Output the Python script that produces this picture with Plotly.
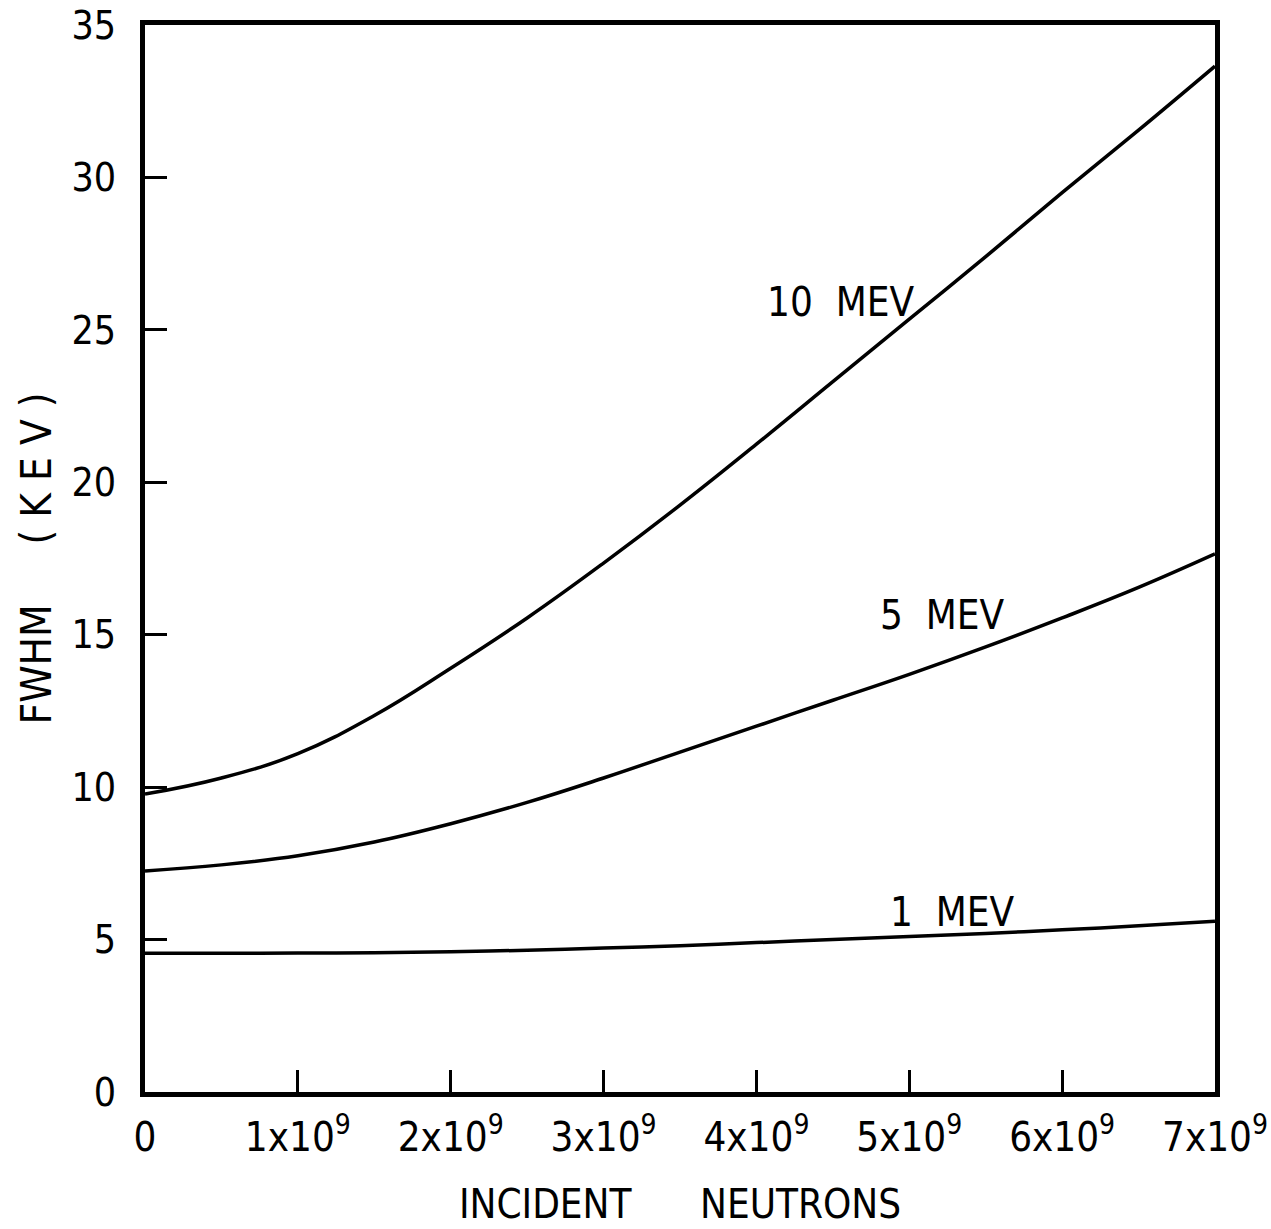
import plotly.graph_objects as go

# Incident neutrons (units of 1e9)
neutrons_e9 = [0, 0.5, 1, 1.5, 2, 2.5, 3, 3.5, 4, 4.5, 5, 5.5, 6, 6.5, 7]

fwhm_10mev = [9.77, 10.3, 11.1, 12.35, 13.9, 15.55, 17.35, 19.25, 21.25, 23.3, 25.35, 27.4, 29.5, 31.55, 33.65]
fwhm_5mev = [7.25, 7.45, 7.75, 8.2, 8.8, 9.5, 10.3, 11.15, 12.0, 12.85, 13.7, 14.6, 15.55, 16.55, 17.65]
fwhm_1mev = [4.55, 4.55, 4.56, 4.57, 4.6, 4.65, 4.72, 4.8, 4.9, 5.0, 5.1, 5.2, 5.32, 5.45, 5.6]

series_names = ["10  MEV", "5  MEV", "1  MEV"]

x_tickvals_e9 = [0, 1, 2, 3, 4, 5, 6, 7]
x_ticktext = ["0", "1x10<sup>9</sup>", "2x10<sup>9</sup>", "3x10<sup>9</sup>",
              "4x10<sup>9</sup>", "5x10<sup>9</sup>", "6x10<sup>9</sup>", "7x10<sup>9</sup>"]
y_tickvals = [0, 5, 10, 15, 20, 25, 30, 35]

FONT = "DejaVu Sans Condensed"

x_vals = [v * 1e9 for v in neutrons_e9]

fig = go.Figure()
for name, ys in zip(series_names, [fwhm_10mev, fwhm_5mev, fwhm_1mev]):
    fig.add_trace(go.Scatter(
        x=x_vals, y=ys, mode="lines", name=name,
        line=dict(color="black", width=3.5, shape="spline", smoothing=1.2),
        showlegend=False,
    ))

label_pos = {"10  MEV": (4.55e9, 25.9), "5  MEV": (5.22e9, 15.65), "1  MEV": (5.28e9, 5.9)}
for name in series_names:
    lx, ly = label_pos[name]
    fig.add_annotation(x=lx, y=ly, text=name, showarrow=False,
                       font=dict(family=FONT, size=40, color="black"),
                       xanchor="center", yanchor="middle")

fig.update_layout(
    width=1271, height=1229,
    margin=dict(l=145, r=56, t=25, b=137),
    paper_bgcolor="white", plot_bgcolor="white",
    font=dict(family=FONT, size=40, color="black"),
)

fig.update_xaxes(
    range=[0, 7e9], automargin=False,
    tickvals=[v * 1e9 for v in x_tickvals_e9], ticktext=x_ticktext,
    ticks="inside", ticklen=22, tickwidth=3, tickcolor="black",
    showline=True, linewidth=5, linecolor="black", mirror=True,
    showgrid=False, zeroline=False,
    tickfont=dict(family=FONT, size=40, color="black"),
    ticklabelstandoff=6, ticklabeloverflow="allow",
    title=dict(text="INCIDENT      NEUTRONS",
               font=dict(family=FONT, size=40, color="black"), standoff=32),
)
fig.update_yaxes(
    range=[0, 35], automargin=False,
    tickvals=y_tickvals,
    ticks="inside", ticklen=22, tickwidth=3, tickcolor="black",
    showline=True, linewidth=5, linecolor="black", mirror=True,
    showgrid=False, zeroline=False,
    tickfont=dict(family=FONT, size=39, color="black"),
    ticklabelstandoff=16, ticklabeloverflow="allow",
    title=dict(text="FWHM     ( K E V )",
               font=dict(family=FONT, size=42, color="black"), standoff=8),
)

fig.write_html("out.html")
